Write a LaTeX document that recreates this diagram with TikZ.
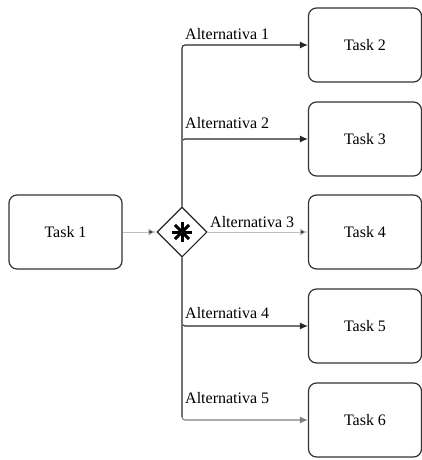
\documentclass[tikz,border=0pt]{standalone}
\usepackage{fontspec}
\setmainfont{Liberation Serif}
\usetikzlibrary{arrows.meta,shapes.geometric,calc}
\begin{document}
\begin{tikzpicture}[x=1pt,y=-1pt,
  task/.style={draw=black!80,line width=1.2pt,rounded corners=8pt,minimum width=113pt,minimum height=74pt,inner sep=0pt,font=\fontsize{16}{18}\selectfont,fill=white},
  gate/.style={draw=black!85,line width=1.1pt,diamond,minimum width=50pt,minimum height=50pt,inner sep=0pt,fill=white},
  lbl/.style={font=\fontsize{16}{18}\selectfont,inner sep=0pt,anchor=base west},
  tip/.style={-{Latex[length=8pt,width=7pt]}},
  darkline/.style={draw=black!85,line width=1.1pt,tip,rounded corners=3pt},
  midline/.style={draw=black!50,line width=1.1pt,tip,rounded corners=3pt},
  lightline/.style={draw=black!25,line width=1pt,-{Latex[length=8pt,width=7pt,fill=black!85]}},
  trunk/.style={draw=black!55,line width=1.1pt}]
\useasboundingbox (0,0) rectangle (422,460);
\node[task] (t1) at (65.5,232) {Task 1};
\node[gate] (gw) at (182,232) {};
\foreach \a in {0,45,90,135}{
  \draw[line width=3pt,black] ($(gw.center)+(\a:10pt)$) -- ($(gw.center)+(\a+180:10pt)$);
}
\node[task] (t2) at (365,45) {Task 2};
\node[task] (t3) at (365,139) {Task 3};
\node[task] (t4) at (365,232) {Task 4};
\node[task] (t5) at (365,326) {Task 5};
\node[task] (t6) at (365,420) {Task 6};
\draw[lightline] (t1.east) -- (gw.west);
\draw[darkline] (gw.north) |- (t2.west);
\draw[darkline] (gw.north) |- (t3.west);
\draw[lightline] (gw.east) -- (t4.west);
\draw[darkline] (gw.south) |- (t5.west);
\draw[midline] (gw.south) |- (t6.west);
\draw[trunk] (gw.north) -- ([yshift=-3pt]gw.north |- t2.west);
\draw[trunk] (gw.south) -- ([yshift=3pt]gw.south |- t6.west);
\node[lbl] (a1) at (185,40) {Alternativa 1};
\node[lbl] (a2) at (185,128) {Alternativa 2};
\node[lbl] (a3) at (210,227) {Alternativa 3};
\node[lbl] (a4) at (185,318) {Alternativa 4};
\node[lbl] (a5) at (185,403) {Alternativa 5};
\end{tikzpicture}
\end{document}
